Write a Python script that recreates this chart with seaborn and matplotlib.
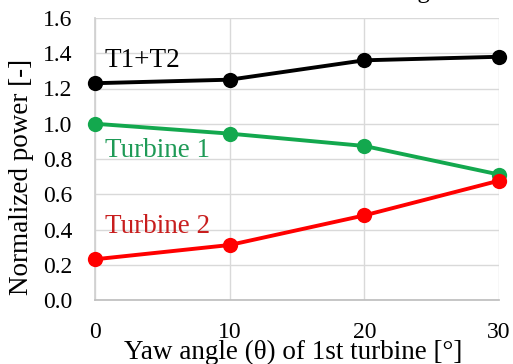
import matplotlib
matplotlib.use("Agg")
import matplotlib.pyplot as plt
import seaborn as sns
import pandas as pd

yaw_deg = [0, 10, 20, 30]
p_total = [1.23, 1.25, 1.36, 1.38]
p_turbine1 = [1.00, 0.944, 0.874, 0.712]
p_turbine2 = [0.231, 0.312, 0.480, 0.677]
yticks = [0.0, 0.2, 0.4, 0.6, 0.8, 1.0, 1.2, 1.4, 1.6]

sns.set_theme(style="whitegrid")
plt.rcParams["font.family"] = ["Liberation Serif", "DejaVu Serif"]

df = pd.concat([
    pd.DataFrame({"yaw": yaw_deg, "power": p_total, "series": "T1+T2"}),
    pd.DataFrame({"yaw": yaw_deg, "power": p_turbine1, "series": "Turbine 1"}),
    pd.DataFrame({"yaw": yaw_deg, "power": p_turbine2, "series": "Turbine 2"}),
])
palette = {"T1+T2": "#000000", "Turbine 1": "#13A84E", "Turbine 2": "#FF0000"}

W, H = 513, 364
fig = plt.figure(figsize=(W / 100, H / 100), dpi=100)
ax = fig.add_axes([95 / W, 1 - 300 / H, 404 / W, 282 / H])

sns.lineplot(data=df, x="yaw", y="power", hue="series", palette=palette,
             marker="o", markersize=11, markeredgewidth=0, linewidth=2.8,
             legend=False, ax=ax, clip_on=False, zorder=3)

ax.set_xlim(0, 30)
ax.set_ylim(0, 1.6)
ax.set_xticks(yaw_deg)
ax.set_yticks(yticks)
ax.set_yticklabels([f"{v:.1f}" for v in yticks])
ax.tick_params(axis="both", labelsize=17, colors="#000000", length=0)
ax.tick_params(axis="y", pad=16)
ax.tick_params(axis="x", pad=16)
ax.grid(True, color="#D9D9D9", linewidth=1.0)
for s in ax.spines.values():
    s.set_visible(False)
ax.spines["left"].set_visible(True)
ax.spines["bottom"].set_visible(True)
ax.spines["left"].set_color("#D0D0D0")
ax.spines["bottom"].set_color("#BFBFBF")

ax.set_xlabel("")
ax.set_ylabel("")
fig.text(293 / W, 1 - 359 / H, "Yaw angle (θ) of 1st turbine [°]", fontsize=19.5,
         ha="center", va="baseline", color="#000000")
fig.text(22 / W, 1 - 177 / H, "Normalized power [-]", fontsize=19.5, rotation=90,
         ha="center", va="center", color="#000000")

ax.text(0.74, 1.322, "T1+T2", fontsize=19.5, color="#000000", va="baseline")
ax.text(0.74, 0.811, "Turbine 1", fontsize=19.5, color="#1E9A56", va="baseline")
ax.text(0.74, 0.38, "Turbine 2", fontsize=19.5, color="#C81E1E", va="baseline")

fig.text(430 / W, 1 + 2 / H, "Wake steering", fontsize=18,
         ha="right", va="baseline", color="#000000")

fig.savefig("out.png", dpi=100)
